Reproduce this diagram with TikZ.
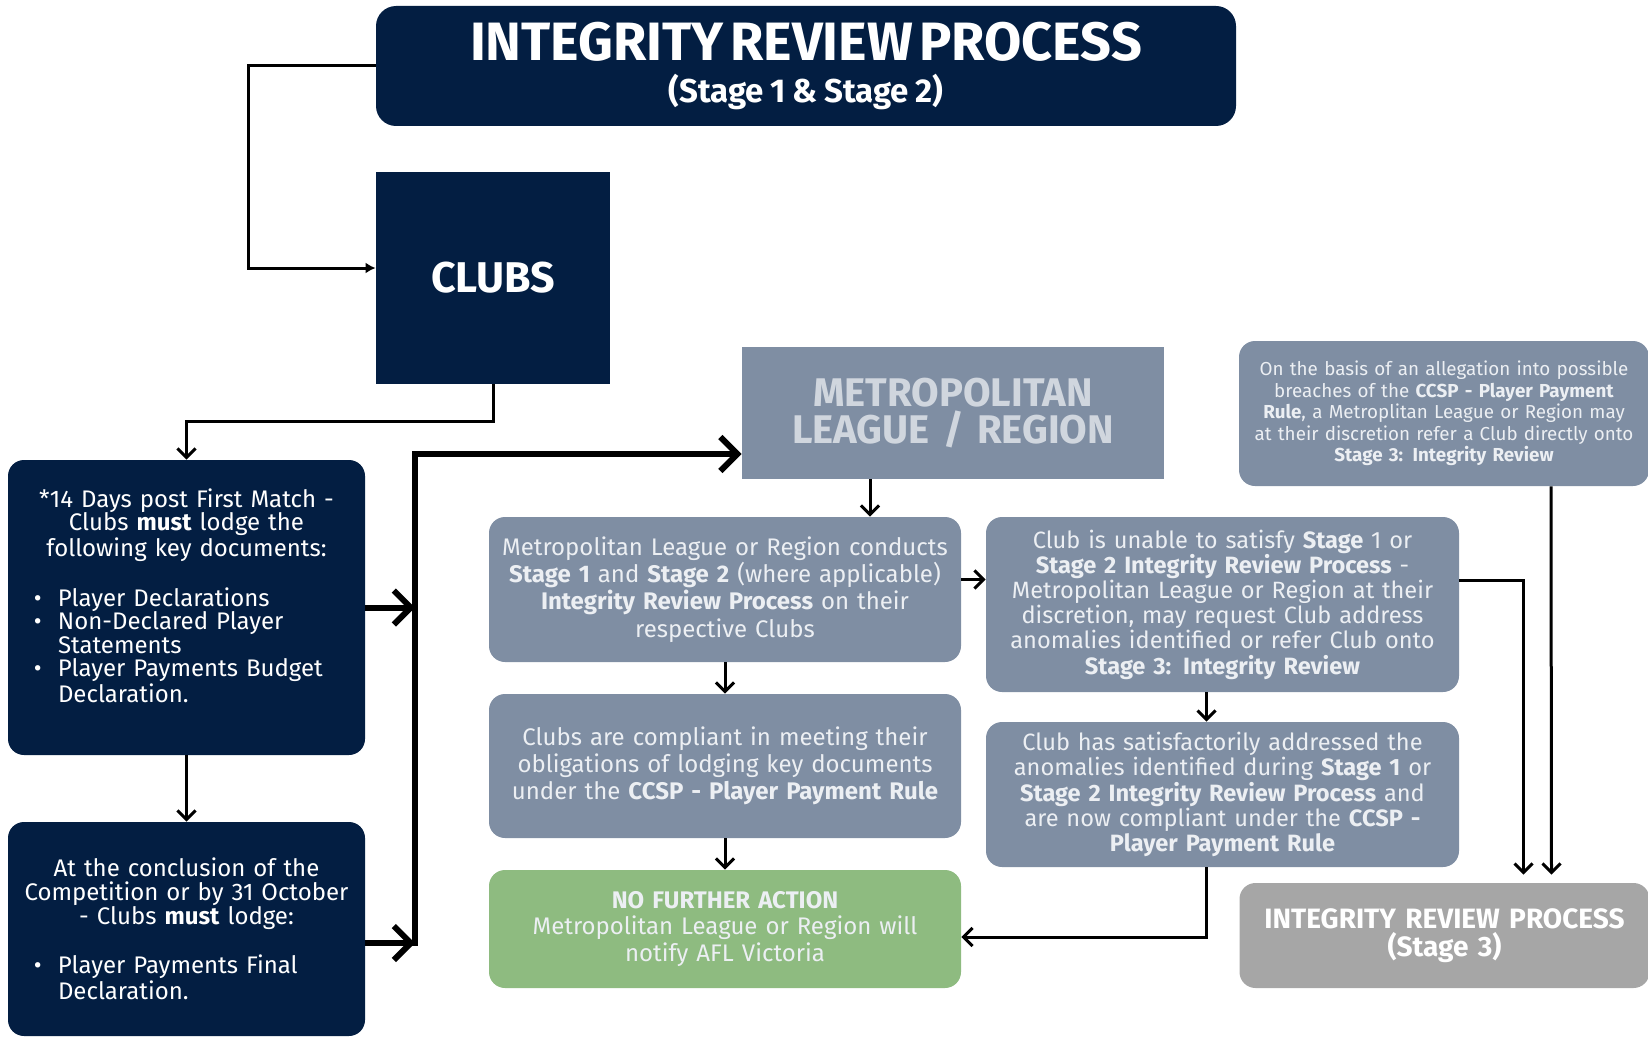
\documentclass[tikz,border=0pt]{standalone}
\usepackage{fontspec}
\setmainfont{Fira Sans}
\usetikzlibrary{arrows.meta}
\definecolor{navy}{RGB}{3,30,66}
\definecolor{slate}{RGB}{127,142,163}
\definecolor{paleslate}{RGB}{208,214,222}
\definecolor{leaf}{RGB}{142,187,128}
\definecolor{stone}{RGB}{166,166,166}
\definecolor{softwhite}{RGB}{236,239,243}
\newcommand{\dotitem}[1]{\par\hangindent=21pt\hangafter=1\noindent\hbox to 21pt{\hskip 9pt\textbullet\hfil}#1}

\begin{document}
\begin{tikzpicture}[x=0.5pt,y=-0.5pt,inner sep=4pt,
  navybox/.style={fill=navy,text=white,align=center},
  slatebox/.style={fill=slate,text=softwhite,align=center,rounded corners=8pt},
  flow/.style={line width=1.5pt,-{Straight Barb[length=4.5pt,width=9pt]}},
  bigflow/.style={line width=3pt,-{Straight Barb[length=8.5pt,width=17pt]}}]
\useasboundingbox (0,0) rectangle (1648,1038);
\node[navybox,rounded corners=10pt,minimum width=430pt,minimum height=60pt,text width=420pt] (title) at (806,66)
  {\fontsize{27}{28}\selectfont\bfseries INTEGRITY REVIEW PROCESS\\[5pt] \fontsize{16.5}{20}\selectfont (Stage 1 \& Stage 2)};
\node[navybox,minimum width=117pt,minimum height=106pt] (clubs) at (493,278)
  {\fontsize{21.5}{24}\selectfont\bfseries CLUBS};
%
\node[navybox,rounded corners=8pt,minimum width=178.5pt,minimum height=147.5pt,text width=170.5pt,
  font=\fontsize{12}{11.8}\selectfont] (box1) at (186.5,607.5)
  {*14 Days post First Match -\\ Clubs \textbf{must} lodge the\\ following key documents:\par\vspace{11.8pt}
  {\raggedright\dotitem{Player Declarations}\dotitem{Non-Declared Player Statements}\dotitem{Player Payments Budget Declaration.}\par}\mbox{}};
\node[navybox,rounded corners=8pt,minimum width=178.5pt,minimum height=107pt,text width=170.5pt,
  font=\fontsize{12}{11.8}\selectfont] (box2) at (186.5,929)
  {At the conclusion of the\\ Competition or by 31 October\\ - Clubs \textbf{must} lodge:\par\vspace{11.8pt}
  {\raggedright\dotitem{Player Payments Final Declaration.}\par}};
%%
\node[fill=slate,text=paleslate,align=center,minimum width=211pt,minimum height=66pt,text width=203pt,
  font=\fontsize{20}{18.5}\selectfont\bfseries] (metro) at (953,413)
  {METROPOLITAN\\ LEAGUE / REGION};
\node[slatebox,minimum width=203pt,minimum height=72.5pt,text width=197pt,
  font=\fontsize{9.4}{10.7}\selectfont] (alleg) at (1444,413.5)
  {On the basis of an allegation into possible\\ breaches of the \textbf{CCSP - Player Payment}\\ \textbf{Rule}, a Metroplitan League or Region may\\ at their discretion refer a Club directly onto\\ \textbf{Stage 3: Integrity Review}};
%
\node[slatebox,minimum width=234pt,minimum height=72.5pt,text width=228pt,
  font=\fontsize{12}{13.6}\selectfont] (conducts) at (725,589.5)
  {Metropolitan League or Region conducts\\ \textbf{Stage 1} and \textbf{Stage 2} (where applicable)\\ \textbf{Integrity Review Process} on their\\ respective Clubs};
\node[slatebox,minimum width=234pt,minimum height=72pt,text width=228pt,
  font=\fontsize{12}{13.6}\selectfont] (compliant) at (725,766)
  {Clubs are compliant in meeting their\\ obligations of lodging key documents\\ under the \textbf{CCSP - Player Payment Rule}};
\node[slatebox,fill=leaf,minimum width=234pt,minimum height=59pt,text width=228pt,
  font=\fontsize{12}{13.4}\selectfont] (nofurther) at (725,929)
  {\textbf{NO FURTHER ACTION}\\ Metropolitan League or Region will\\ notify AFL Victoria};
%
\node[slatebox,minimum width=234.5pt,minimum height=87.5pt,text width=228.5pt,
  font=\fontsize{11.8}{12.6}\selectfont] (unable) at (1222.5,604.5)
  {Club is unable to satisfy \textbf{Stage} 1 or\\ \textbf{Stage 2 Integrity Review Process} -\\ Metropolitan League or Region at their\\ discretion, may request Club address\\ anomalies identified or refer Club onto\\ \textbf{Stage 3: Integrity Review}};
\node[slatebox,minimum width=234.5pt,minimum height=72.5pt,text width=228.5pt,
  font=\fontsize{11.8}{12.6}\selectfont] (satisfied) at (1222.5,794.5)
  {Club has satisfactorily addressed the\\ anomalies identified during \textbf{Stage 1} or\\ \textbf{Stage 2 Integrity Review Process} and\\ are now compliant under the \textbf{CCSP -}\\ \textbf{Player Payment Rule}};
\node[slatebox,fill=stone,text=white,minimum width=203pt,minimum height=52.5pt,text width=197pt,
  font=\fontsize{14}{13.7}\selectfont\bfseries] (stage3) at (1444.5,935.5)
  {INTEGRITY REVIEW PROCESS\\ (Stage 3)};
%%
\coordinate (bustop) at (415,454);
\coordinate (busbot) at (415,946);
\draw[flow,-{Latex[length=5pt,width=5.5pt]}] (title.west) -- ++(-127,0) |- ([yshift=5pt]clubs.west);
\draw[flow] (clubs.south) -- ++(0,37) -| (box1.north);
\draw[flow] (box1.south) -- (box2.north);
\draw[bigflow] (busbot) -- (bustop) -- (bustop -| metro.west);
\draw[bigflow] (box1.east) -- (box1.east -| bustop);
\draw[bigflow] ([yshift=-7pt]box2.east) -- ([yshift=-7pt]box2.east -| bustop);
%
\draw[flow] ([xshift=-41.5pt]metro.south) -- ([xshift=-41.5pt]metro.south |- conducts.north);
\draw[flow] ([yshift=5pt]conducts.east) -- ([yshift=5pt]conducts.east -| unable.west);
\draw[flow] (conducts.south) -- (compliant.north);
\draw[flow] (compliant.south) -- (nofurther.north);
\draw[flow] ([xshift=-8pt]unable.south) -- ([xshift=-8pt]satisfied.north);
\draw[flow] ([xshift=-8pt]satisfied.south) |- ([yshift=-4pt]nofurther.east);
\draw[flow,shorten >=4pt] ([yshift=12pt]unable.east) -| ([xshift=39.5pt]stage3.north);
\draw[flow,shorten >=4pt] ([xshift=53.5pt]alleg.south) -- ([xshift=53.5pt]stage3.north);
\end{tikzpicture}
\end{document}
